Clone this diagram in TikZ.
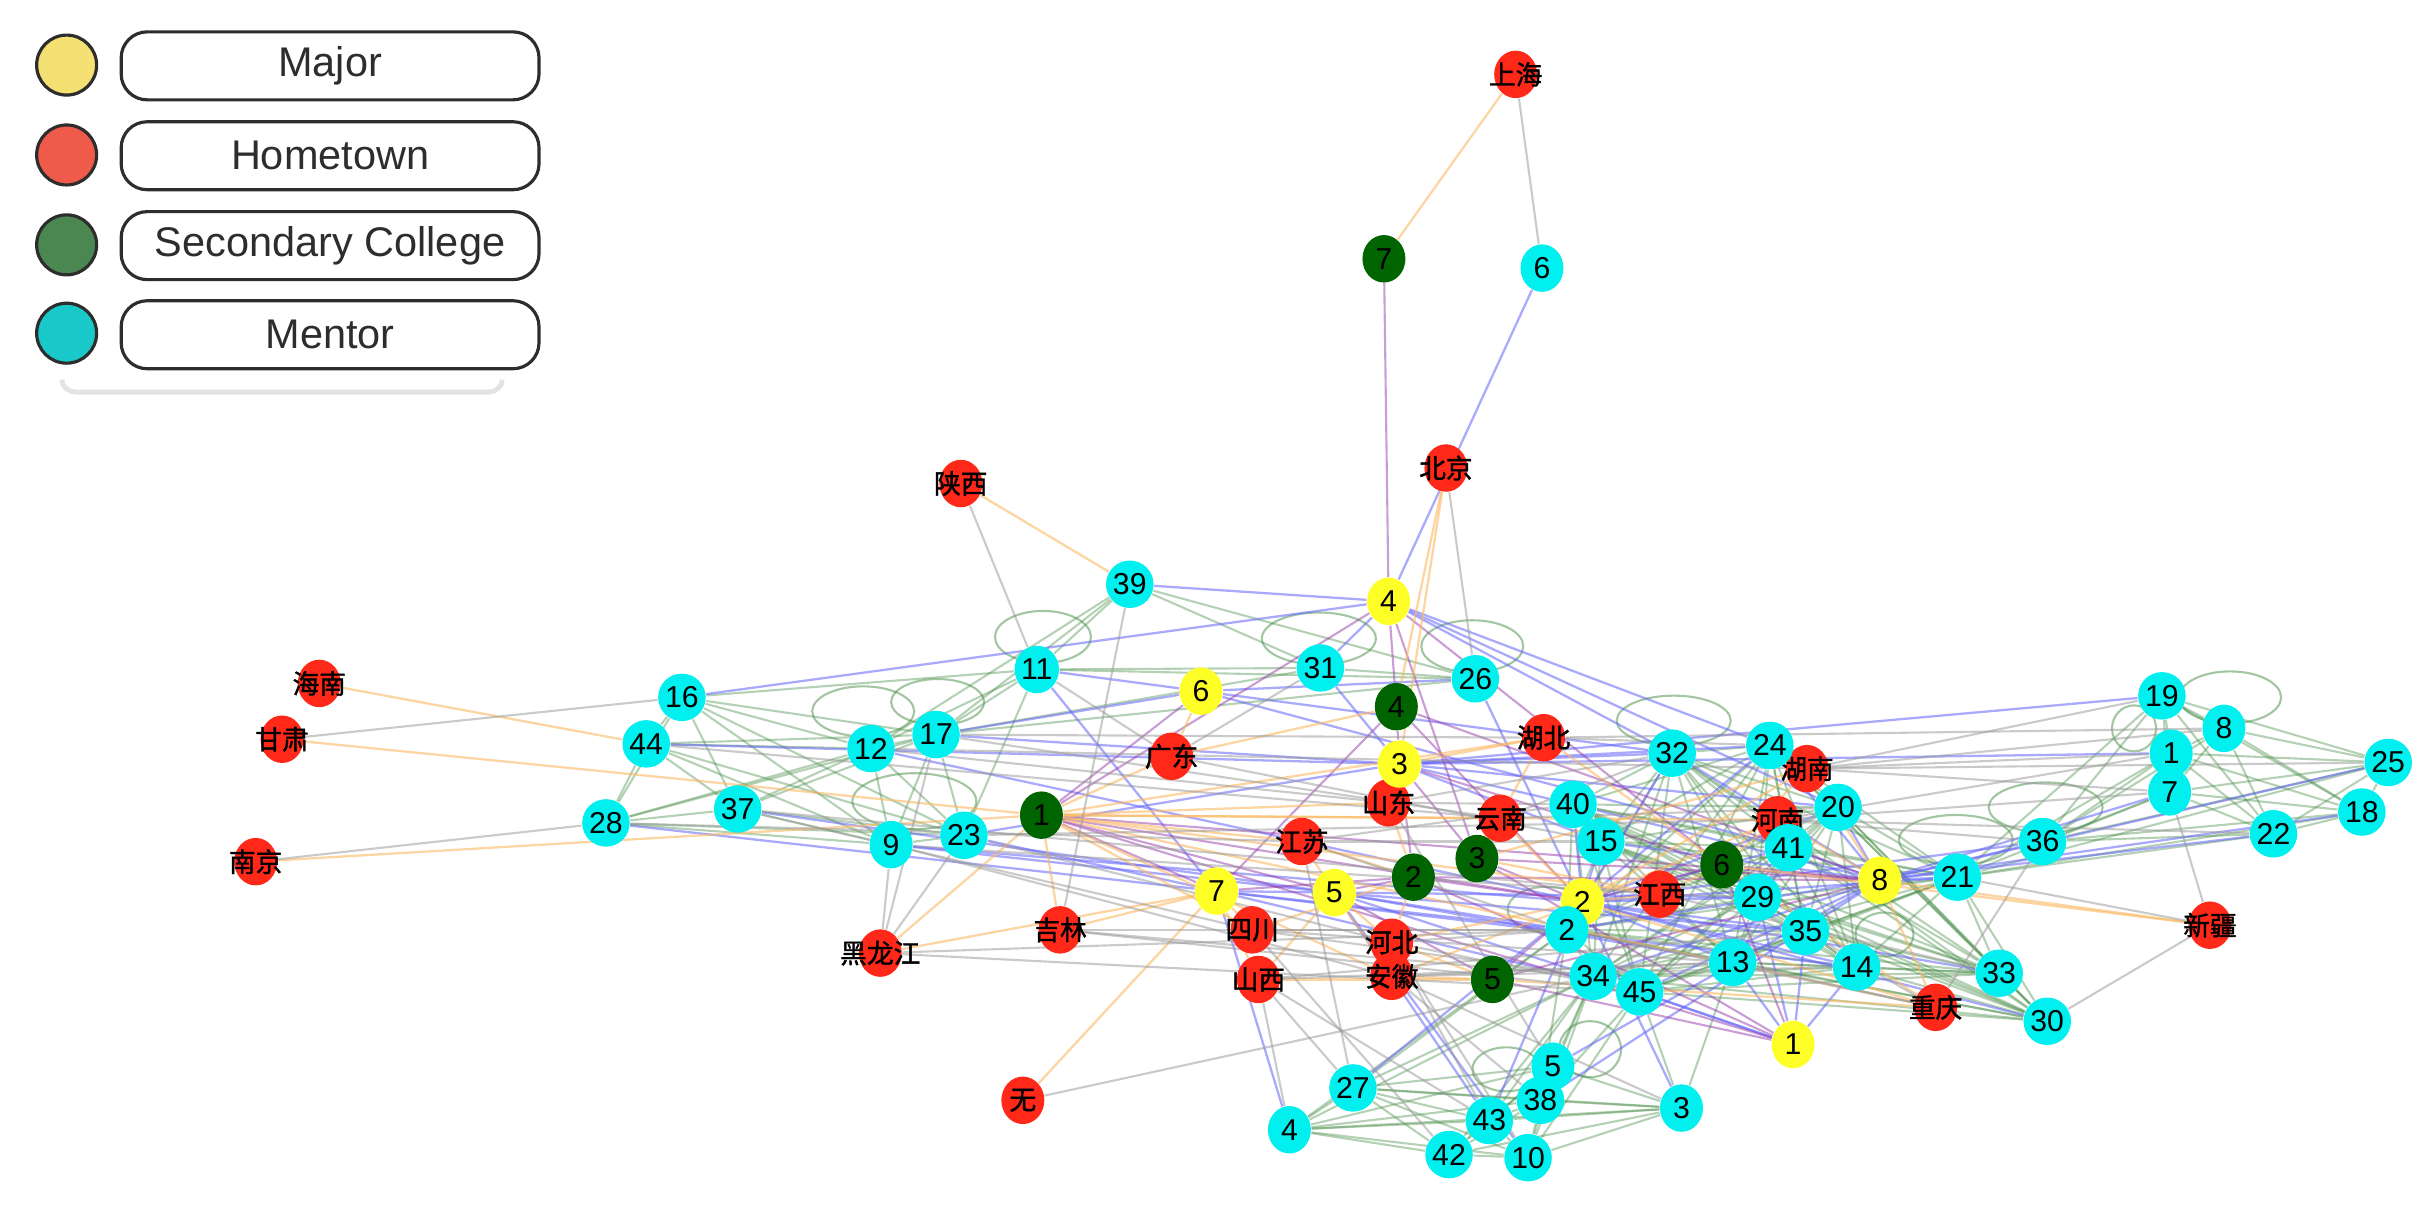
\documentclass[tikz,border=0pt]{standalone}
\usepackage{fontspec}
\setmainfont{Liberation Sans}
\newfontfamily\cjk[FakeBold=1.5]{Noto Sans CJK SC}
\usetikzlibrary{backgrounds,shapes.geometric}
\definecolor{nY}{RGB}{255,255,40}
\definecolor{nR}{RGB}{255,40,25}
\definecolor{nG}{RGB}{0,100,0}
\definecolor{nC}{RGB}{0,240,240}
\definecolor{lY}{RGB}{245,225,115}
\definecolor{lR}{RGB}{240,90,75}
\definecolor{lG}{RGB}{75,135,80}
\definecolor{lC}{RGB}{25,200,200}
\definecolor{lk}{RGB}{45,45,45}
\definecolor{eG}{RGB}{70,140,70}
\definecolor{eB}{RGB}{100,100,250}
\definecolor{eK}{RGB}{150,150,150}
\definecolor{eO}{RGB}{250,185,100}
\definecolor{eP}{RGB}{150,60,170}
\newcommand\mkclique[2]{%
  \foreach \a [count=\i] in {#2}{\foreach \b [count=\j] in {#2}{\ifnum\j>\i\relax\draw[#1] (\a)--(\b);\fi}}}
\begin{document}
\begin{tikzpicture}[x=0.015497cm,y=-0.015497cm,
  nd/.style={ellipse,minimum width=4.3mm,minimum height=4.75mm,inner sep=0pt,font=\fontsize{8.6}{9}\selectfont},
  maj/.style={nd,fill=nY},
  hom/.style={nd,fill=nR,font=\cjk\fontsize{7.6}{8}\selectfont},
  col/.style={nd,fill=nG},
  men/.style={nd,fill=nC},
  eg/.style={draw=eG,line width=0.6pt,opacity=0.4},
  eb/.style={draw=eB,line width=0.65pt,opacity=0.55},
  ek/.style={draw=eK,line width=0.6pt,opacity=0.5},
  eo/.style={draw=eO,line width=0.65pt,opacity=0.6},
  ep/.style={draw=eP,line width=0.6pt,opacity=0.5},
  lp/.style={draw=eG,line width=0.6pt,opacity=0.5},
  legc/.style={circle,draw=lk,line width=0.9pt,minimum size=6.0mm,inner sep=0pt},
  legbox/.style={draw=lk,line width=0.9pt,rounded corners=2.6mm,minimum width=41.8mm,minimum height=6.8mm,inner sep=0pt,text=lk,font=\fontsize{11.8}{13}\selectfont}]
\useasboundingbox (0,0) rectangle (1568,780);
% ---------- legend ----------
\node[legc,fill=lY] (lc1) at (43,42) {};
\node[legc,fill=lR] (lc2) at (43,100) {};
\node[legc,fill=lG] (lc3) at (43,158) {};
\node[legc,fill=lC] (lc4) at (43,215) {};
\node[legbox] (lb1) at (213,42.5) {Major};
\node[legbox] (lb2) at (213,100.5) {Hometown};
\node[legbox] (lb3) at (213,158.5) {Secondary College};
\node[legbox] (lb4) at (213,216) {Mentor};
\draw[gray!22,line width=1.4pt] (40,245) to[out=-90,in=180] (49,253) -- (315,253) to[out=0,in=-90] (324,245);
% ---------- hometown ----------
\node[hom] (hSH) at (978,48) {\makebox[0pt]{上海}};
\node[hom] (hBJ) at (933,302) {\makebox[0pt]{北京}};
\node[hom] (hSN) at (620,312) {\makebox[0pt]{陕西}};
\node[hom] (hHaiN) at (206,441) {\makebox[0pt]{海南}};
\node[hom] (hGS) at (182,477) {\makebox[0pt]{甘肃}};
\node[hom] (hNJ) at (165,556) {\makebox[0pt]{南京}};
\node[hom] (hGD) at (756,488) {\makebox[0pt]{广东}};
\node[hom] (hHuB) at (996,476) {\makebox[0pt]{湖北}};
\node[hom] (hHuN) at (1166,496) {\makebox[0pt]{湖南}};
\node[hom] (hSD) at (896,518) {\makebox[0pt]{山东}};
\node[hom] (hYN) at (968,528) {\makebox[0pt]{云南}};
\node[hom] (hJS) at (840,543) {\makebox[0pt]{江苏}};
\node[hom] (hHeN) at (1147,529) {\makebox[0pt]{河南}};
\node[hom] (hJX) at (1071,577) {\makebox[0pt]{江西}};
\node[hom] (hSC) at (808,600) {\makebox[0pt]{四川}};
\node[hom] (hJL) at (684,600) {\makebox[0pt]{吉林}};
\node[hom] (hHLJ) at (568,615) {\makebox[0pt]{黑龙江}};
\node[hom] (hSX) at (812,632) {\makebox[0pt]{山西}};
\node[hom] (hHeB) at (898,608) {\makebox[0pt]{河北}};
\node[hom] (hAH) at (898,630) {\makebox[0pt]{安徽}};
\node[hom] (hCQ) at (1249,650) {\makebox[0pt]{重庆}};
\node[hom] (hXJ) at (1426,597) {\makebox[0pt]{新疆}};
\node[hom] (hWu) at (660,710) {\makebox[0pt]{无}};
% ---------- major ----------
\node[maj] (y4) at (896,388) {4};
\node[maj] (y6) at (775,446) {6};
\node[maj] (y3) at (903,493) {3};
\node[maj] (y7) at (785,575) {7};
\node[maj] (y5) at (861,576) {5};
\node[maj] (y2) at (1021,582) {2};
\node[maj] (y8) at (1213,568) {8};
\node[maj] (y1) at (1157,674) {1};
% ---------- college ----------
\node[col] (g7) at (893,167) {7};
\node[col] (g4) at (901,456) {4};
\node[col] (g1) at (672,526) {1};
\node[col] (g2) at (912,566) {2};
\node[col] (g3) at (953,554) {3};
\node[col] (g6) at (1111,558) {6};
\node[col] (g5) at (963,632) {5};
% ---------- mentor ----------
\node[men] (m6) at (995,173) {6};
\node[men] (m39) at (729,377) {39};
\node[men] (m11) at (669,432) {11};
\node[men] (m31) at (852,431) {31};
\node[men] (m26) at (952,438) {26};
\node[men] (m16) at (440,450) {16};
\node[men] (m44) at (417,480) {44};
\node[men] (m12) at (562,483) {12};
\node[men] (m17) at (604,474) {17};
\node[men] (m37) at (476,522) {37};
\node[men] (m28) at (391,531) {28};
\node[men] (m9) at (575,545) {9};
\node[men] (m23) at (622,539) {23};
\node[men] (m32) at (1079,486) {32};
\node[men] (m24) at (1142,481) {24};
\node[men] (m40) at (1015,519) {40};
\node[men] (m15) at (1033,543) {15};
\node[men] (m20) at (1186,521) {20};
\node[men] (m41) at (1154,547) {41};
\node[men] (m29) at (1134,579) {29};
\node[men] (m2) at (1011,600) {2};
\node[men] (m35) at (1165,601) {35};
\node[men] (m13) at (1118,621) {13};
\node[men] (m14) at (1198,624) {14};
\node[men] (m34) at (1028,630) {34};
\node[men] (m45) at (1058,640) {45};
\node[men] (m21) at (1263,566) {21};
\node[men] (m36) at (1318,543) {36};
\node[men] (m33) at (1290,628) {33};
\node[men] (m30) at (1321,659) {30};
\node[men] (m19) at (1395,449) {19};
\node[men] (m8) at (1435,470) {8};
\node[men] (m1) at (1401,486) {1};
\node[men] (m7) at (1400,511) {7};
\node[men] (m25) at (1541,492) {25};
\node[men] (m18) at (1524,524) {18};
\node[men] (m22) at (1467,538) {22};
\node[men] (m5) at (1002,688) {5};
\node[men] (m38) at (994,710) {38};
\node[men] (m43) at (961,723) {43};
\node[men] (m10) at (986,747) {10};
\node[men] (m42) at (935,745) {42};
\node[men] (m27) at (873,702) {27};
\node[men] (m4) at (832,729) {4};
\node[men] (m3) at (1085,715) {3};
% ---------- edges ----------
\begin{scope}[on background layer]
% self loops
\draw[lp] (673,411) ellipse [x radius=4.8mm,y radius=2.6mm];
\draw[lp] (851,412) ellipse [x radius=5.7mm,y radius=2.6mm];
\draw[lp] (950,417) ellipse [x radius=5.1mm,y radius=2.6mm];
\draw[lp] (557,459) ellipse [x radius=5.1mm,y radius=2.5mm];
\draw[lp] (605,453) ellipse [x radius=4.65mm,y radius=2.3mm];
\draw[lp] (590,517) ellipse [x radius=6.2mm,y radius=2.8mm];
\draw[lp] (1080,465) ellipse [x radius=5.7mm,y radius=2.5mm];
\draw[lp] (1439,450) ellipse [x radius=5.1mm,y radius=2.6mm];
\draw[lp] (1377,470) ellipse [x radius=2.2mm,y radius=2.3mm];
\draw[lp] (1320,521) ellipse [x radius=5.7mm,y radius=2.5mm];
\draw[lp] (1262,542) ellipse [x radius=5.7mm,y radius=2.5mm];
\draw[lp] (1216,603) ellipse [x radius=2.9mm,y radius=2.2mm];
\draw[lp] (1026,677) ellipse [x radius=3.1mm,y radius=2.8mm];
\draw[lp] (972,690) ellipse [x radius=3.4mm,y radius=2.2mm];
\draw[lp] (998,587) ellipse [x radius=3.9mm,y radius=2.3mm];
% green mentor-mentor
\mkclique{eg}{m16,m44,m28,m37,m12,m17,m9,m23}
\foreach \a/\b in {m11/m17,m11/m12,m11/m39,m39/m17,m11/m31,m11/m26,m39/m31,m39/m26,m31/m26,m17/m26,m17/m31,m39/m12,m11/m23,m16/m11}
  \draw[eg] (\a)--(\b);
\mkclique{eg}{m32,m24,m40,m15,m20,m41,m29,m2,m35,m13,m14,m34,m45,m21,m33,m30}
\mkclique{eg}{m4,m27,m43,m42,m10,m38,m5,m3}
\foreach \a/\b in {m34/m5,m34/m38,m34/m43,m34/m27,m34/m4,m45/m3,m45/m38,m45/m10,m2/m4,m2/m27,m34/m42,m34/m10,m13/m3,m2/m38}
  \draw[eg] (\a)--(\b);
\mkclique{eg}{m19,m8,m1,m7,m25,m18,m22,m36}
\foreach \a/\b in {m21/m19,m21/m1,m21/m7,m21/m22,m21/m25,m21/m18}
  \draw[eg] (\a)--(\b);
% blue mentor-major
\foreach \a/\b in {m6/y4,m39/y4,m16/y4,m11/y6,m11/y7,m17/y6,m44/y3,m28/y7,m23/y3,m9/y5,m17/y3,m31/y4,m31/y3,m26/y2,y4/m32,y4/m24,y4/m20,m19/y3,m1/y3,m22/y8,m18/y8,m36/y8,m21/y8,m7/y8,m25/y8,m4/y7,m27/y2,m43/y5,m43/y2,m5/y8,m38/y8,m3/y2,m10/y5,y1/m13,y1/m14,y1/m35,y1/m29,y8/m15,y8/m40,y8/m32,y8/m2,y8/m34,y8/m45,y8/m41,y8/m20,y8/m24,y2/m40,y2/m15,y2/m32,y2/m24,y2/m20,y2/m41,y2/m29,y2/m35,y2/m13,y2/m14,y2/m21,y2/m36,y2/m33,y2/m30,y3/m32,y3/m24,y3/m15,y3/m40,y3/m20,y5/m2,y5/m34,y5/m13,y5/m35,y7/m2,y7/m45,y7/m29,y7/m14,y6/m32,y6/m41,y6/m26,m12/y2,m37/y5,m23/y7,m9/y2,y1/m34,y1/m45}
  \draw[eb] (\a)--(\b);
% purple college-major
\foreach \a/\b in {g7/y4,g1/y6,g1/y4,g1/y2,g1/y5,g1/y7,g1/y8,g1/y1,g4/y4,g4/y3,g4/y2,g4/y7,g2/y3,g2/y5,g2/y2,g2/y1,g2/y7,g3/y3,g3/y2,g3/y4,g3/y8,g6/y8,g6/y2,g6/y3,g6/y4,g5/y2,g5/y1,g5/y5,g5/y8,g3/y1,g6/y1,g2/y8,g4/y8}
  \draw[ep] (\a)--(\b);
% orange hometown links
\foreach \a/\b in {hSH/g7,hBJ/g4,hBJ/y3,hSN/m39,hHaiN/m44,hGS/g1,hNJ/g1,hHLJ/g1,hHLJ/y7,hJL/g1,hWu/y7,hGD/g1,hGD/g4,hGD/y6,hXJ/g6,hXJ/y8,hCQ/g6,hHuN/g6,hHeN/g6,hJX/g6,hHuB/g3,hYN/g3,hSD/g2,hJS/g2,hSC/g2,hSX/g5,hHeB/g5,hAH/g5,hHeB/g2,hHuB/y3,hYN/y2,hJX/y2,hHeN/y8,hHuN/y8,hSD/y3,hJS/y5,hSC/y7,hSX/y7,hHeB/y5,hAH/y5,hCQ/y8,hJL/y7,g1/hHuB,g1/hYN,g1/hJX,g1/hHeN,g1/hSD,g1/hJS,g1/hSC,g1/hAH,g1/hCQ,hHuN/y2,hHeN/y2,hCQ/y2,hAH/y2,hHeB/y2,hSX/y5,hHuB/g6,hHuN/g3,hJX/g3,hCQ/g5}
  \draw[eo] (\a)--(\b);
% grey hometown-mentor
\foreach \a/\b in {hSH/m6,hBJ/m26,hSN/m11,hGS/m16,hNJ/m28,hHLJ/m9,hHLJ/m23,hJL/m39,hXJ/m7,hXJ/m30,hXJ/m21,hCQ/m36,hHuN/m19,hHuN/m1,hHeN/m7,hHeN/m36,hHuB/m8,hHuN/m25,hWu/m34,hSX/m4,hSX/m27,hSX/m43,hSC/m42,hHeB/m10,hHeB/m43,hAH/m38,hAH/m3,hJS/m27,hSD/m5,hSC/m2,hSC/m34,hSX/m13,hHeB/m2,hHeB/m45,hAH/m13,hAH/m14,hJL/m2,hJL/m34,hHLJ/m45,hJS/m15,hSD/m40,hYN/m32,hHuB/m24,hJX/m29,hGD/m15,hJS/m2,m17/hHuB,m12/hHuN,m44/hYN,m37/hJX,hGD/m31,hJL/m45,hHLJ/m2,hSC/m13,hSX/m35,hHeN/m1,hHuN/m7,hHeN/m22,hHuN/m8,hJX/m33,hCQ/m13,hCQ/m35,hCQ/m2,hHLJ/m17,hSD/m32,hYN/m20,hJS/m40,hGD/m11,m9/hJX,m23/hHeN,m17/hYN,m12/hSD,m9/hAH,m23/hHeB,m37/hSC,m28/hJS}
  \draw[ek] (\a)--(\b);
\end{scope}
\end{tikzpicture}
\end{document}
